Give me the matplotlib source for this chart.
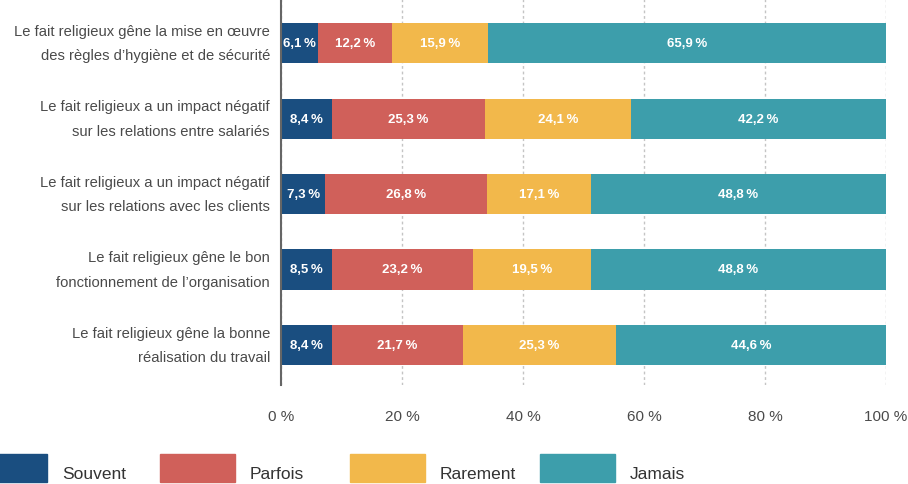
import matplotlib
matplotlib.use("Agg")
import matplotlib.pyplot as plt
from matplotlib.patches import Rectangle
from matplotlib import font_manager

names = {f.name for f in font_manager.fontManager.ttflist}
FONT = "Liberation Sans Narrow" if "Liberation Sans Narrow" in names else "Liberation Sans"
plt.rcParams['font.family'] = [FONT, 'DejaVu Sans']

categories = [
    "Le fait religieux gêne la mise en œuvre\ndes règles d\u2019hygiène et de sécurité",
    "Le fait religieux a un impact négatif\nsur les relations entre salariés",
    "Le fait religieux a un impact négatif\nsur les relations avec les clients",
    "Le fait religieux gêne le bon\nfonctionnement de l\u2019organisation",
    "Le fait religieux gêne la bonne\nréalisation du travail",
]
series_names = ["Souvent", "Parfois", "Rarement", "Jamais"]
souvent = [6.1, 8.4, 7.3, 8.5, 8.4]
parfois = [12.2, 25.3, 26.8, 23.2, 21.7]
rarement = [15.9, 24.1, 17.1, 19.5, 25.3]
jamais = [65.9, 42.2, 48.8, 48.8, 44.6]
xticks = [0, 20, 40, 60, 80, 100]
xtick_labels = ["0 %", "20 %", "40 %", "60 %", "80 %", "100 %"]

colors = ["#1a4e80", "#d0605a", "#f2b84b", "#3d9eab"]
series = [souvent, parfois, rarement, jamais]

W, H = 908, 485
fig = plt.figure(figsize=(W / 100, H / 100), dpi=100)
ax = fig.add_axes([281 / W, 1 - 386 / H, (886 - 281) / W, 386 / H])

y = list(range(len(categories)))
left = [0.0] * len(categories)
for vals, col in zip(series, colors):
    ax.barh(y, vals, left=left, height=0.53, color=col, edgecolor="none", zorder=3)
    for i, v in enumerate(vals):
        ax.text(left[i] + v / 2, y[i], f"{v:.1f}".replace(".", ",") + "\u2009%",
                ha="center", va="center", color="white", fontsize=9.5,
                fontweight="bold", zorder=4)
    left = [l + v for l, v in zip(left, vals)]

ax.set_xlim(0, 100)
ax.set_ylim(4.53, -0.583)
ax.set_yticks(y)
ax.set_yticklabels(categories, fontsize=10.6, color="#4a4a4a", linespacing=1.95,
                   va="center")
ax.set_xticks(xticks)
ax.set_xticklabels(xtick_labels, fontsize=11, color="#4a4a4a")
ax.tick_params(axis="both", length=0)
ax.tick_params(axis="x", pad=17)
ax.tick_params(axis="y", pad=8)
for s in ["top", "right", "bottom"]:
    ax.spines[s].set_visible(False)
ax.spines["left"].set_color("#666666")
ax.spines["left"].set_linewidth(1.5)
ax.spines["left"].set_zorder(5)
ax.grid(axis="x", color="#c4c4c4", linestyle=(0, (2, 2)), linewidth=1, zorder=1)
ax.set_axisbelow(True)

# legend
legend_x = [-28, 160, 350, 540]
for lx, name, col in zip(legend_x, series_names, colors):
    fig.add_artist(Rectangle((lx / W, 1 - 483 / H), 75 / W, 28 / H,
                             transform=fig.transFigure, color=col))
    fig.text((lx + 90) / W, 1 - 475 / H, name, fontsize=12.5,
             color="#333333", va="center", ha="left")

fig.savefig("out.png", dpi=100)
